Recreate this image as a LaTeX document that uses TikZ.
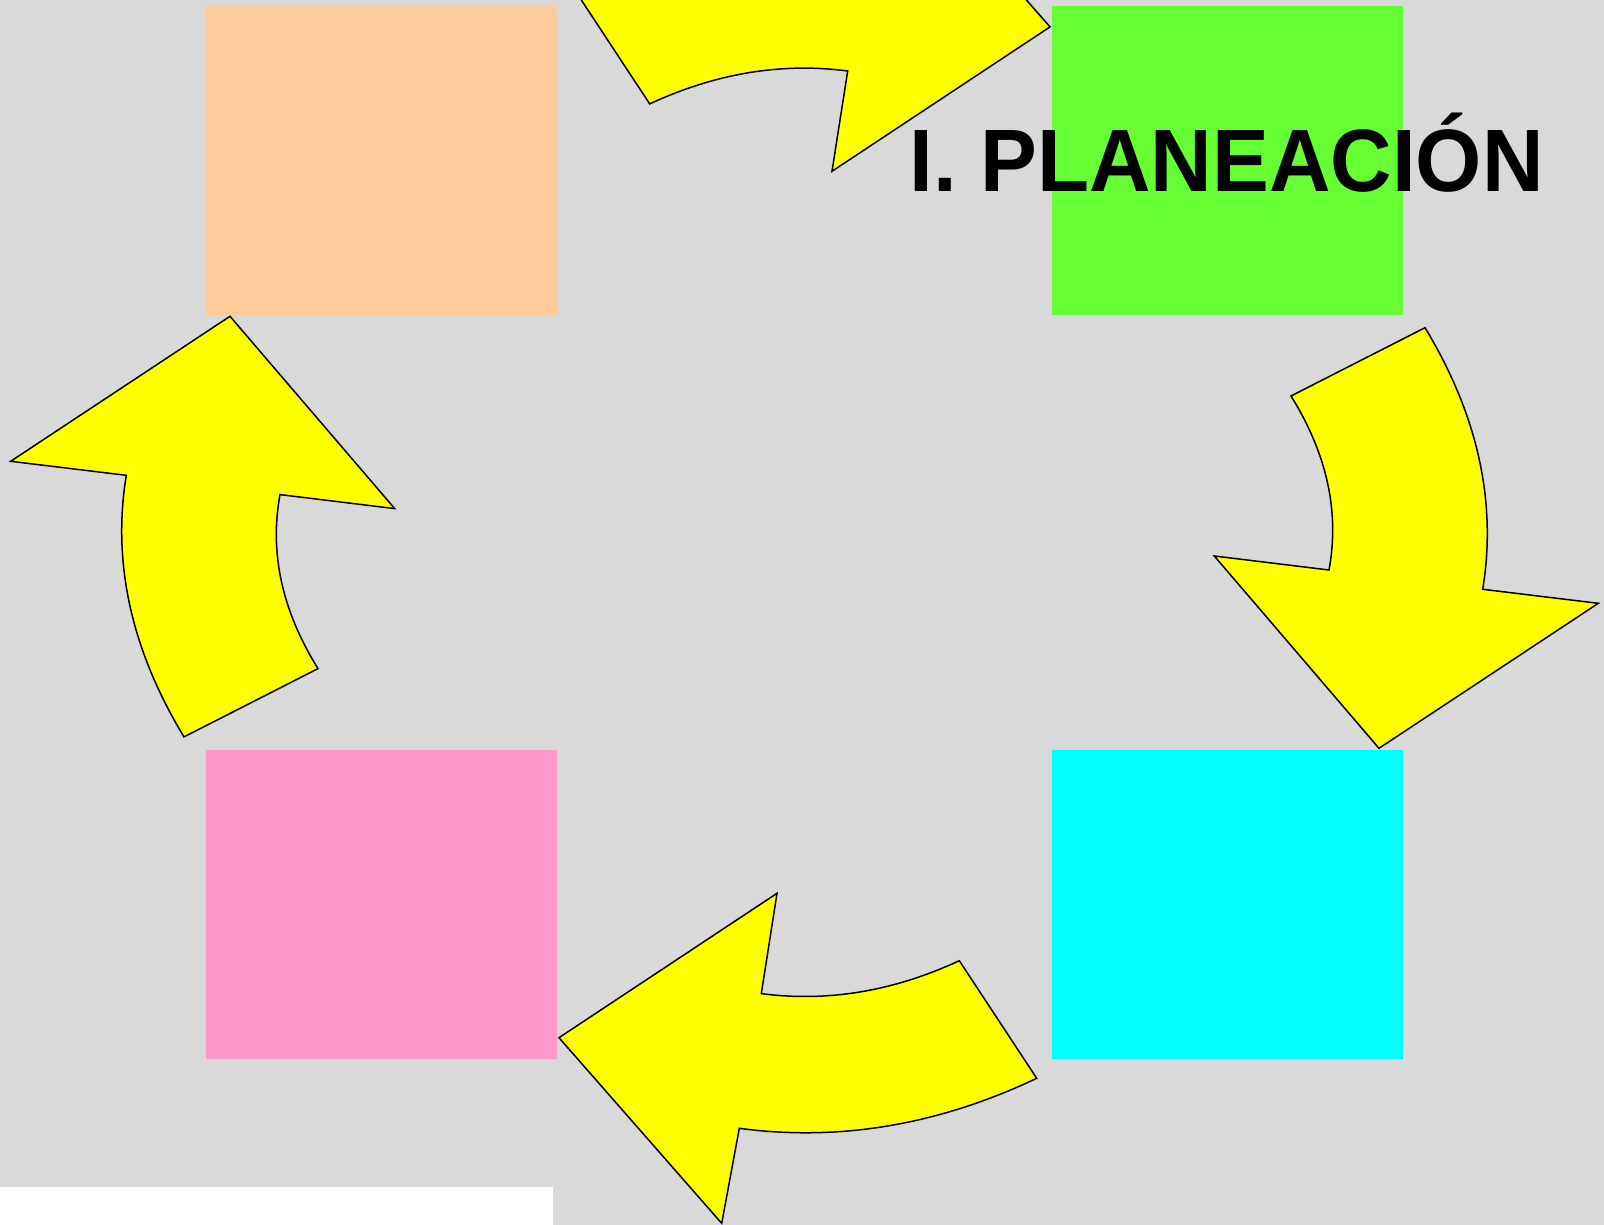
\documentclass[tikz,border=0pt]{standalone}
\usepackage{fontspec}
\usepackage{graphicx}
\setmainfont{Liberation Sans}
\definecolor{bgc}{RGB}{217,217,217}
\definecolor{peach}{RGB}{255,204,153}
\definecolor{lgreen}{RGB}{102,255,51}
\definecolor{pinkc}{RGB}{255,153,204}
\definecolor{cyanc}{RGB}{0,255,255}
\definecolor{yel}{RGB}{255,255,0}
\tikzset{
  box/.style={draw=none, inner sep=0pt, outer sep=0pt, rectangle, minimum width=351pt, minimum height=309pt},
  arrowshape/.style={fill=yel, draw=black, line width=1.5pt, line join=miter},
  titletext/.style={font=\fontsize{85.2}{85.2}\selectfont\bfseries, inner sep=0pt, text=black}
}
\newcommand{\DrawSideArrow}{%
  \filldraw[arrowshape] (1425,327.7) -- (1291,396)
    .. controls (1327.1,454.0) and (1339.7,512.0) .. (1329,570)
    -- (1214.3,556) -- (1379,748.3) -- (1598.3,603.3) -- (1482.7,589.3)
    .. controls (1497.0,502.1) and (1477.8,414.9) .. (1425,327.7)
    -- cycle;}
\newcommand{\DrawBottomArrow}{%
  \filldraw[arrowshape] (777,893.3) -- (761.3,993.6)
    .. controls (827.4,1002.3) and (893.4,991.3) .. (959.3,960.7)
    -- (1036.7,1078.3)
    .. controls (938.2,1125.0) and (839.0,1141.7) .. (739.3,1128.3)
    -- (721.7,1223.3) -- (559,1037.7) -- cycle;}
\begin{document}
\begin{tikzpicture}[x=1pt,y=-1pt]
\useasboundingbox (0,0) rectangle (1604,1225);
\clip (0,0) rectangle (1604,1225);
\fill[bgc] (0,0) rectangle (1604,1225);
\fill[white] (0,1187) rectangle (553,1225);
\node[box, fill=peach]  (peachbox) at (381.5,160.5) {};
\node[box, fill=lgreen] (greenbox) at (1227,160.5) {};
\node[box, fill=pinkc]  (pinkbox)  at (381.5,904.5) {};
\node[box, fill=cyanc]  (cyanbox)  at (1227,904.5) {};
\DrawSideArrow
\DrawBottomArrow
\begin{scope}[rotate around={180:(804.5,532.3)}]
\DrawSideArrow
\DrawBottomArrow
\end{scope}
\node[titletext, anchor=base] (title) at (1226.7,192) {\scalebox{1}[1.04]{I. PLANEACIÓN}};
\end{tikzpicture}
\end{document}
